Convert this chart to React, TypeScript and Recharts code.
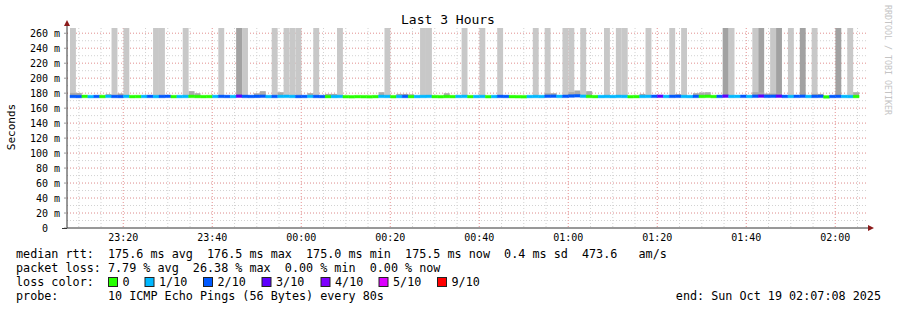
import React from "react"
import { ComposedChart, Bar, XAxis, YAxis, CartesianGrid, Cell } from "recharts"

// minutes after 23:00 (Oct 18), one sample every 80 s
const viewStart = 7.35
const viewEnd = 187.35
const firstSample = 8.69
const stepMin = 80 / 60

const timeTicks = [20, 40, 60, 80, 100, 120, 140, 160, 180]
const timeLabels = ["23:20", "23:40", "00:00", "00:20", "00:40", "01:00", "01:20", "01:40", "02:00"]
const rttTicks = [0, 20, 40, 60, 80, 100, 120, 140, 160, 180, 200, 220, 240, 260]

// median rtt per sample (ms)
const medianMs = [
  175.6, 175.5, 175.7, 175.4, 175.6, 175.5, 175.8, 175.6, 175.5, 175.7,
  175.4, 175.5, 175.6, 175.7, 175.5, 175.6, 175.8, 175.4, 175.5, 175.6,
  175.7, 175.5, 175.4, 175.5, 175.6, 175.7, 175.6, 175.5, 176.0, 175.7,
  175.6, 175.8, 175.9, 175.5, 175.6, 175.7, 175.8, 175.6, 175.5, 175.6,
  175.7, 175.6, 175.5, 175.4, 175.5, 175.6, 175.3, 175.2, 175.4, 175.3,
  175.2, 175.4, 175.7, 175.6, 175.3, 175.5, 175.6, 175.4, 175.5, 175.6,
  175.7, 175.4, 175.3, 175.5, 175.4, 175.6, 175.7, 175.4, 175.5, 175.6,
  175.3, 175.5, 175.7, 175.6, 175.4, 175.3, 175.2, 175.5, 175.6, 175.5,
  175.9, 176.0, 175.7, 175.8, 176.2, 176.5, 175.9, 175.6, 175.4, 175.5,
  175.6, 175.5, 175.7, 175.6, 175.3, 175.4, 175.6, 175.7, 175.8, 175.9,
  175.6, 175.7, 175.8, 175.6, 175.5, 175.7, 175.6, 175.8, 175.5, 175.7,
  176.0, 175.6, 175.7, 175.8, 175.6, 175.9, 176.1, 175.8, 175.9, 176.0,
  175.7, 175.6, 175.8, 175.9, 175.6, 175.7, 175.8, 175.0, 175.6, 175.7,
  175.6, 175.5, 175.5,
]

// lost pings out of 10 per sample
const lossTenths = [
  2, 2, 0, 1, 2, 0, 1, 2, 2, 1,
  0, 0, 1, 2, 1, 2, 2, 0, 1, 1,
  0, 0, 0, 0, 1, 2, 2, 1, 3, 2,
  2, 2, 2, 1, 2, 1, 1, 1, 2, 2,
  1, 2, 2, 0, 1, 1, 0, 0, 0, 0,
  0, 0, 1, 1, 0, 1, 2, 0, 1, 1,
  1, 0, 0, 0, 0, 1, 1, 0, 1, 1,
  0, 1, 2, 2, 0, 0, 0, 1, 1, 1,
  2, 2, 1, 2, 2, 2, 1, 0, 0, 1,
  1, 1, 1, 1, 0, 0, 1, 1, 2, 3,
  1, 2, 2, 1, 1, 2, 0, 0, 0, 2,
  3, 1, 1, 2, 1, 2, 3, 2, 2, 3,
  2, 1, 2, 2, 1, 2, 2, 0, 2, 2,
  1, 1, 0,
]

// samples whose slowest pings go off the top of the graph
const lightSpikes = [0, 7, 9, 14, 15, 19, 25, 29, 34, 36, 37, 38, 41, 45, 53, 59, 60, 66, 69, 72, 78, 80, 83, 84, 86, 90, 92, 93, 97, 101, 103, 111, 115, 118, 121, 125, 131]
const darkSpikes = [28, 110, 116, 119, 123, 129]
const spikeBase = 176.5
const spikeTop = 300

// [sample, max rtt] for the small smoke just above the median
const smokeBumps: [number, number][] = [
  [0, 180.4], [1, 180.4], [6, 178.7], [8, 179.6], [20, 182.7], [21, 180], [31, 180], [32, 182.7],
  [35, 181.3], [40, 180], [43, 179], [44, 179], [52, 181.3], [55, 179], [56, 179], [57, 178.5],
  [63, 180], [80, 180], [81, 180], [84, 181.3], [85, 183.6], [87, 182.7], [96, 179], [102, 178.7],
  [105, 180], [106, 181], [107, 181.3], [115, 181.3], [116, 181.3], [117, 179.5], [118, 179.5],
  [119, 179.5], [125, 179], [126, 179], [132, 181.3],
]

const LOSS_COLORS: Record<number, string> = {
  0: "#26ff00", 1: "#00b8ff", 2: "#0059ff", 3: "#5e00ff", 4: "#7e00ff", 5: "#dd00ff", 9: "#ff0000",
}
const legendLoss = [
  { label: "0", loss: 0, x: 108.5 },
  { label: "1/10", loss: 1, x: 145 },
  { label: "2/10", loss: 2, x: 203.5 },
  { label: "3/10", loss: 3, x: 262 },
  { label: "4/10", loss: 4, x: 321 },
  { label: "5/10", loss: 5, x: 379 },
  { label: "9/10", loss: 9, x: 437.5 },
]

const rows = medianMs.map((m, i) => {
  const bump = smokeBumps.find((b) => b[0] === i)
  return {
    t: firstSample + i * stepMin,
    median: [m - 1.8, m + 1.8],
    light: lightSpikes.includes(i) ? [spikeBase, spikeTop] : null,
    dark: darkSpikes.includes(i) ? [spikeBase, spikeTop] : null,
    bump: bump ? [175, bump[1]] : null,
  }
})

const MONO = "'DejaVu Sans Mono', monospace"
const minorX = Array.from({ length: 36 }, (_, i) => 10 + i * 5)
const minorY = Array.from({ length: 26 }, (_, i) => 10 + i * 10)

const fmtTime = (v: number) => timeLabels[timeTicks.indexOf(v)] ?? ""
const fmtRtt = (v: number) => (v === 0 ? "0\u00a0\u00a0" : `${v} m`)

export default function App() {
  return (
    <div style={{ position: "absolute", left: 0, top: 0, width: 897, height: 310, background: "#fff" }}>
      <ComposedChart
        width={897}
        height={310}
        data={rows}
        margin={{ top: 28, right: 29, bottom: 52, left: 7 }}
        barGap={0}
        barCategoryGap={0}
      >
        <CartesianGrid xAxisId="time" horizontalValues={minorY} verticalValues={minorX} stroke="#d2d2d2" strokeDasharray="1 2" />
        <CartesianGrid xAxisId="time" horizontalValues={rttTicks.slice(1)} verticalValues={timeTicks} stroke="#f2a0a0" strokeDasharray="1 2" />
        <XAxis
          xAxisId="time"
          dataKey="t"
          type="number"
          domain={[viewStart, viewEnd]}
          allowDataOverflow
          ticks={timeTicks}
          tickFormatter={fmtTime}
          tickLine={false}
          tickSize={0}
          tickMargin={6}
          axisLine={{ stroke: "#333" }}
          tick={{ fontFamily: MONO, fontSize: 10, fill: "#000" }}
          interval={0}
        />
        <XAxis xAxisId="light" orientation="top" dataKey="t" type="number" domain={[viewStart, viewEnd]} allowDataOverflow hide />
        <XAxis xAxisId="dark" orientation="top" dataKey="t" type="number" domain={[viewStart, viewEnd]} allowDataOverflow hide />
        <XAxis xAxisId="bump" orientation="top" dataKey="t" type="number" domain={[viewStart, viewEnd]} allowDataOverflow hide />
        <YAxis
          width={60}
          type="number"
          domain={[0, 267]}
          allowDataOverflow
          ticks={rttTicks}
          tickFormatter={fmtRtt}
          tickSize={3}
          tickMargin={4}
          interval={0}
          axisLine={{ stroke: "#333" }}
          tickLine={{ stroke: "#999" }}
          tick={{ fontFamily: MONO, fontSize: 10, fill: "#000" }}
        />
        <Bar xAxisId="light" dataKey="light" fill="#c8c8c8" barSize={5.9} isAnimationActive={false} />
        <Bar xAxisId="dark" dataKey="dark" fill="#a2a2a2" barSize={5.9} isAnimationActive={false} />
        <Bar xAxisId="bump" dataKey="bump" fill="#ababab" barSize={5.9} isAnimationActive={false} />
        <Bar xAxisId="time" dataKey="median" barSize={5.9} isAnimationActive={false}>
          {rows.map((r, i) => (
            <Cell key={`m-${i}`} fill={LOSS_COLORS[lossTenths[i]]} stroke={LOSS_COLORS[lossTenths[i]]} strokeWidth={0.4} />
          ))}
        </Bar>
      </ComposedChart>

      <svg width={897} height={310} style={{ position: "absolute", left: 0, top: 0, pointerEvents: "none" }}>
        <text x={448} y={24} textAnchor="middle" fontFamily={MONO} fontSize={13} fill="#000">
          Last 3 Hours
        </text>
        <text transform="translate(15,127) rotate(-90)" textAnchor="middle" fontFamily={MONO} fontSize={11} fill="#000">
          Seconds
        </text>
        <text transform="translate(885,5) rotate(90)" fontFamily={MONO} fontSize={8.3} fill="#c4c4c4">
          RRDTOOL / TOBI OETIKER
        </text>
        <line x1={67} y1={22} x2={67} y2={28} stroke="#333" />
        <line x1={62} y1={228.5} x2={67} y2={228.5} stroke="#333" />
        <polygon points="64,26 70,26 67,20" fill="#8b1a1a" />
        <polygon points="868,225 868,231 874,228" fill="#8b1a1a" />

        <g fontFamily={MONO} fontSize={11.75} fill="#000" style={{ whiteSpace: "pre" }}>
          <text x={16} y={258} xmlSpace="preserve">
            median rtt:  175.6 ms avg  176.5 ms max  175.0 ms min  175.5 ms now  0.4 ms sd  473.6   am/s
          </text>
          <text x={16} y={272} xmlSpace="preserve">
            packet loss: 7.79 % avg  26.38 % max  0.00 % min  0.00 % now
          </text>
          <text x={16} y={286} xmlSpace="preserve">
            loss color:
          </text>
          {legendLoss.map((l) => (
            <g key={l.label}>
              <rect x={l.x} y={277.5} width={9} height={9} fill={LOSS_COLORS[l.loss]} stroke="#222" />
              <text x={l.x + 14} y={286}>
                {l.label}
              </text>
            </g>
          ))}
          <text x={16} y={300} xmlSpace="preserve">
            probe:       10 ICMP Echo Pings (56 Bytes) every 80s
          </text>
          <text x={881} y={300} textAnchor="end">
            end: Sun Oct 19 02:07:08 2025
          </text>
        </g>
      </svg>
    </div>
  )
}
